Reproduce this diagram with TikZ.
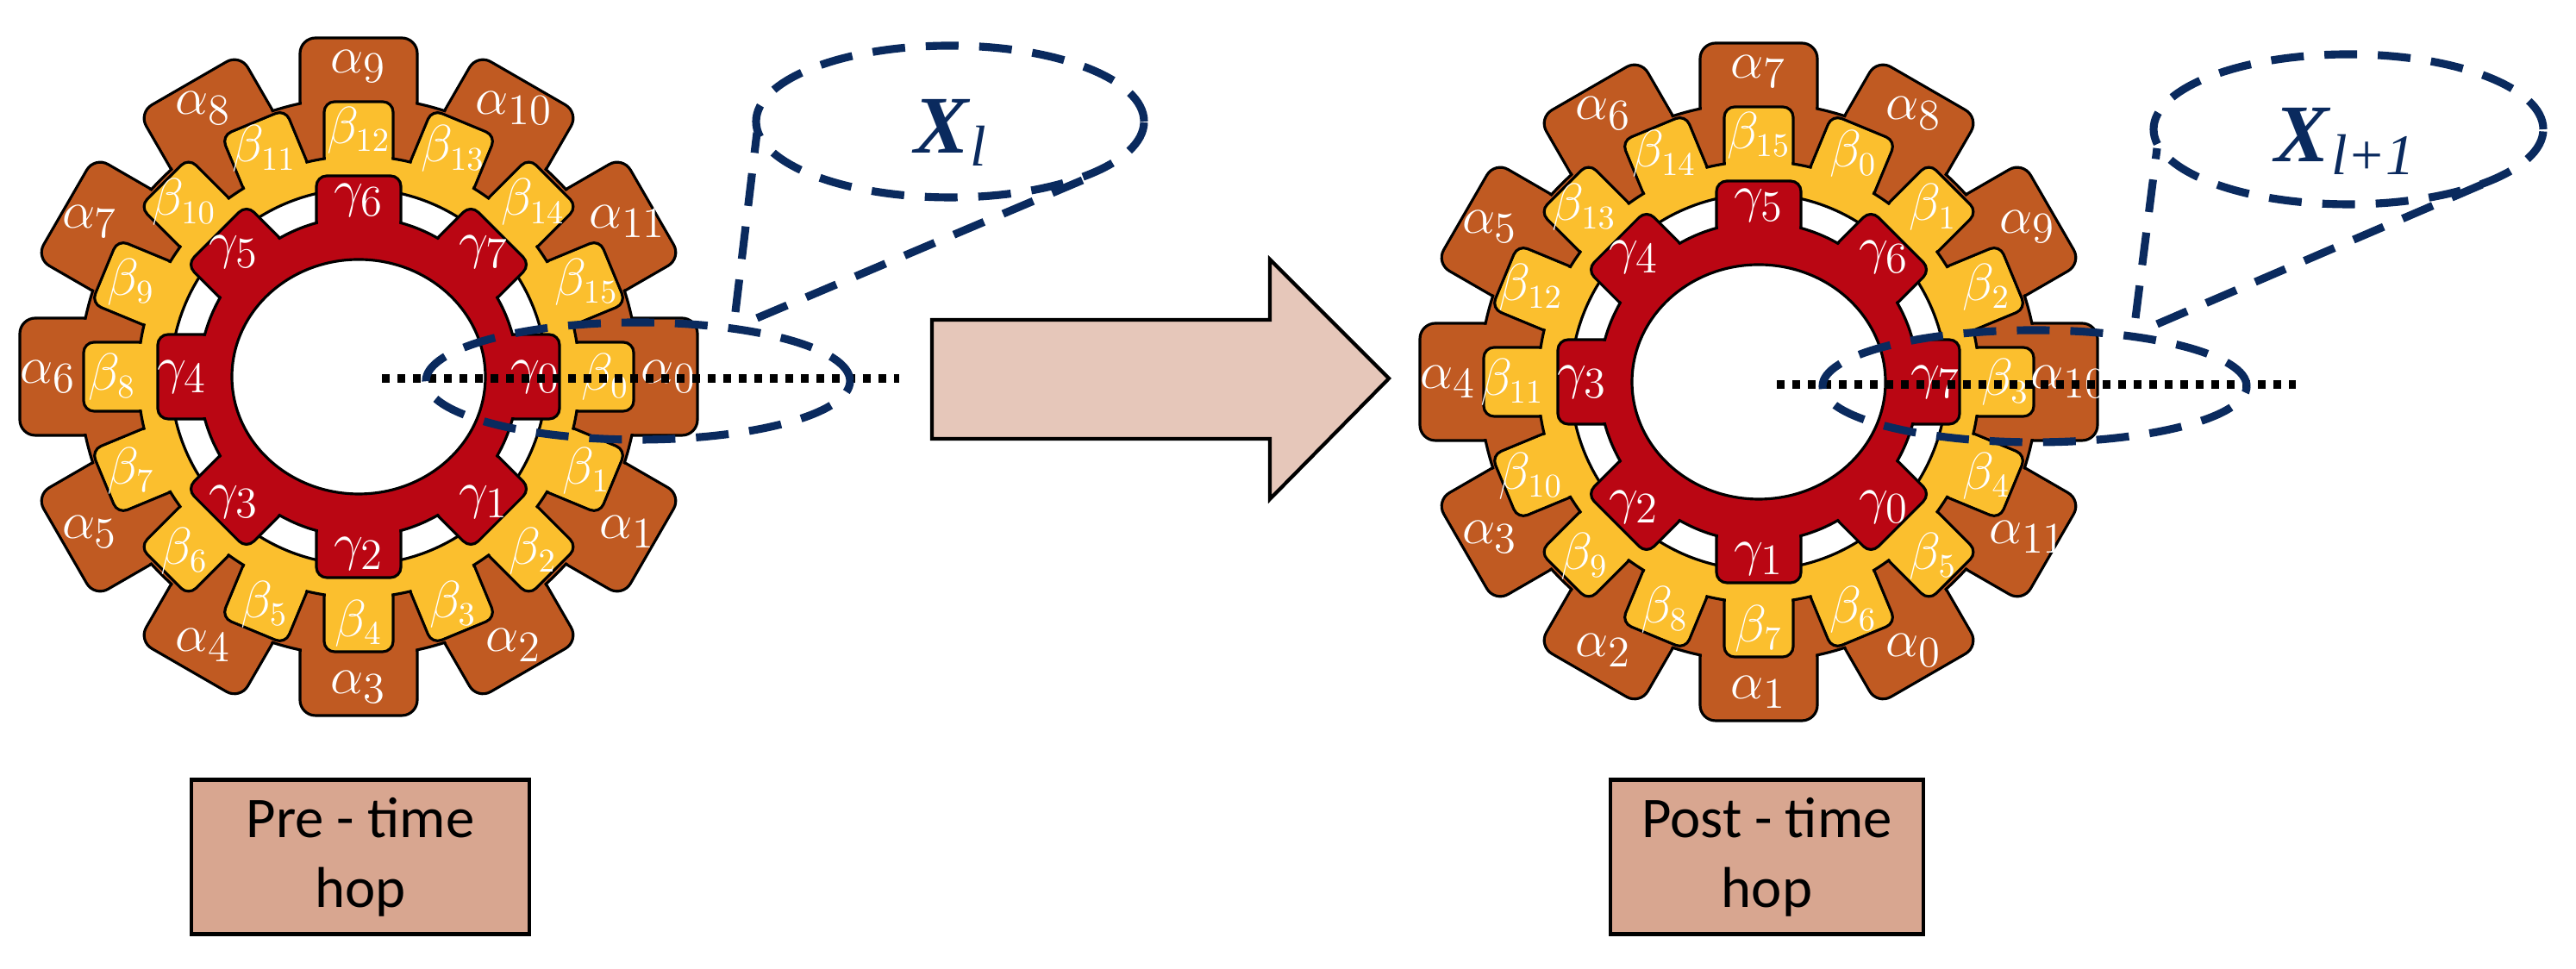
\documentclass[tikz,border=0pt]{standalone}
\usepackage{fontspec}
\setmainfont{Liberation Serif}
\newfontfamily\boxfont{Carlito}
\begin{document}
\begin{tikzpicture}
\definecolor{org}{HTML}{C05A22}
\definecolor{yel}{HTML}{FBBF2E}
\definecolor{rd}{HTML}{BA0613}
\definecolor{nav}{HTML}{0A2A5E}
\definecolor{arr}{HTML}{E6C7BA}
\definecolor{bx}{HTML}{D8A690}
\tikzset{
 edge/.style={draw=black,line width=0.9pt},
 lab/.style={text=white,inner sep=0pt,font=\fontsize{19}{19}\selectfont},
 dsh/.style={draw=nav,line width=2.6pt,dash pattern=on 0.38cm off 0.24cm},
 dotl/.style={draw=black,line width=2.6pt,dash pattern=on 0.09cm off 0.09cm},
 hopbox/.style={draw=black,line width=1.2pt,fill=bx,minimum width=3.92cm,minimum height=1.79cm,align=center,font=\boxfont\fontsize{19}{23}\selectfont}
}
\useasboundingbox (0,0) rectangle (29.88,11.24);
\newcommand\mygear[5]{%
 \begin{scope}[shift={#2}]
  \foreach \j in {0,...,11}{\draw[edge,fill=org,rounded corners=0.18cm,rotate=-30*\j] (2.9,-0.68) rectangle (3.93,0.68);}
  \draw[edge,fill=org] (0,0) circle (3.24);
  \foreach \j in {0,...,11}{\fill[org,rounded corners=0.18cm,rotate=-30*\j] (2.9,-0.66) rectangle (3.91,0.66);}
  \foreach \j in {0,...,15}{\draw[edge,fill=yel,rounded corners=0.12cm,rotate=-22.5*\j] (2.3,-0.40) rectangle (3.19,0.40);}
  \draw[edge,fill=yel] (0,0) circle (2.56);
  \foreach \j in {0,...,15}{\fill[yel,rounded corners=0.12cm,rotate=-22.5*\j] (2.3,-0.38) rectangle (3.17,0.38);}
  \draw[edge,fill=white] (0,0) circle (2.18);
  \foreach \j in {0,...,7}{\draw[edge,fill=rd,rounded corners=0.12cm,rotate=-45*\j] (1.5,-0.49) rectangle (2.33,0.49);}
  \draw[edge,fill=rd] (0,0) circle (1.85);
  \foreach \j in {0,...,7}{\fill[rd,rounded corners=0.12cm,rotate=-45*\j] (1.5,-0.47) rectangle (2.31,0.47);}
  \draw[edge,fill=white] (0,0) ellipse (1.47 and 1.36);
  \foreach \j in {0,...,11}{\pgfmathtruncatemacro\k{mod(\j+#3,12)}
    \node[lab] (#1a\k) at (-30*\j:3.6) {$\alpha_{\k}$};}
  \foreach \j in {0,...,15}{\pgfmathtruncatemacro\k{mod(\j+#4,16)}
    \node[lab,font=\fontsize{16}{16}\selectfont] (#1b\k) at (-22.5*\j:2.86) {$\beta_{\k}$};}
  \foreach \j in {0,...,7}{\pgfmathtruncatemacro\k{mod(\j+#5,8)}
    \node[lab] (#1g\k) at (-45*\j:2.05) {$\gamma_{\k}$};}
 \end{scope}}
\mygear{L}{(4.16,6.87)}{0}{0}{0}
\mygear{R}{(20.40,6.81)}{10}{3}{7}
\coordinate (ld1) at (4.43,6.85); \coordinate (ld2) at (10.43,6.85);
\coordinate (rd1) at (20.61,6.78); \coordinate (rd2) at (26.63,6.78);
\draw[dotl] (ld1) -- (ld2);
\draw[dotl] (rd1) -- (rd2);
\draw[dsh] (7.40,6.82) ellipse (2.46 and 0.68);
\draw[dsh] (11.02,9.83) ellipse (2.25 and 0.88);
\draw[dsh] (23.60,6.76) ellipse (2.46 and 0.65);
\draw[dsh] (27.24,9.74) ellipse (2.26 and 0.87);
\coordinate (l1) at (8.53,7.62); \coordinate (l2) at (8.78,9.70);
\coordinate (l3) at (8.78,7.55); \coordinate (l4) at (12.58,9.16);
\coordinate (r1) at (24.77,7.55); \coordinate (r2) at (25.02,9.52);
\coordinate (r3) at (25.02,7.48); \coordinate (r4) at (28.93,9.16);
\draw[dsh] (l1) -- (l2); \draw[dsh] (l3) -- (l4);
\draw[dsh] (r1) -- (r2); \draw[dsh] (r3) -- (r4);
\node[text=nav,inner sep=0pt,font=\fontsize{27}{27}\selectfont] (xl) at (11.02,9.70) {\textbf{\textit{X}}\raisebox{-0.35ex}{\fontsize{19}{19}\selectfont\textit{l}}};
\node[text=nav,inner sep=0pt,font=\fontsize{27}{27}\selectfont] (xl1) at (27.20,9.60) {\textbf{\textit{X}}\raisebox{-0.35ex}{\fontsize{19}{19}\selectfont\textit{l+1}}};
\draw[line width=1.2pt,fill=arr] (10.81,6.15) -- (10.81,7.53) -- (14.73,7.53) -- (14.73,8.23) -- (16.11,6.85) -- (14.73,5.45) -- (14.73,6.15) -- cycle;
\node[hopbox] (pre) at (4.18,1.30) {Pre - time\\hop};
\node[hopbox,minimum width=3.63cm] (post) at (20.495,1.30) {Post - time\\hop};
\end{tikzpicture}
\end{document}
